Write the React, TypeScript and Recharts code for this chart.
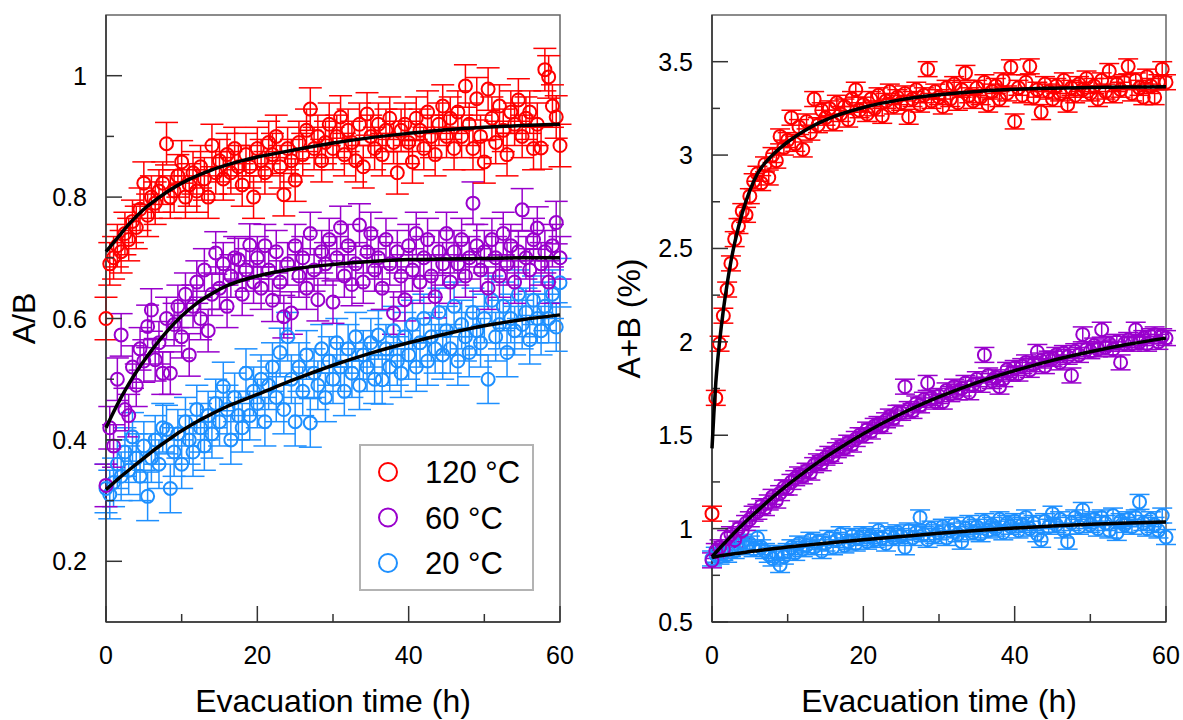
import React from 'react';
import {
  ComposedChart,
  ErrorBar,
  Legend,
  Line,
  ReferenceArea,
  Scatter,
  XAxis,
  YAxis
} from 'recharts';

const FONT = '"Liberation Sans", Arial, sans-serif';

// evacuation time (h), one sample every 30 min
const TIME = [
  0, 0.5, 1, 1.5, 2, 2.5, 3, 3.5, 4, 4.5,
  5, 5.5, 6, 6.5, 7, 7.5, 8, 8.5, 9, 9.5,
  10, 10.5, 11, 11.5, 12, 12.5, 13, 13.5, 14, 14.5,
  15, 15.5, 16, 16.5, 17, 17.5, 18, 18.5, 19, 19.5,
  20, 20.5, 21, 21.5, 22, 22.5, 23, 23.5, 24, 24.5,
  25, 25.5, 26, 26.5, 27, 27.5, 28, 28.5, 29, 29.5,
  30, 30.5, 31, 31.5, 32, 32.5, 33, 33.5, 34, 34.5,
  35, 35.5, 36, 36.5, 37, 37.5, 38, 38.5, 39, 39.5,
  40, 40.5, 41, 41.5, 42, 42.5, 43, 43.5, 44, 44.5,
  45, 45.5, 46, 46.5, 47, 47.5, 48, 48.5, 49, 49.5,
  50, 50.5, 51, 51.5, 52, 52.5, 53, 53.5, 54, 54.5,
  55, 55.5, 56, 56.5, 57, 57.5, 58, 58.5, 59, 59.5,
  60
];

const SERIES_NAMES = ['120 °C', '60 °C', '20 °C'];
const SERIES_COLORS = ['#ff0000', '#9900cc', '#1e90ff'];

// A/B
const RATIO_120 = [
  0.60, 0.69, 0.70, 0.72, 0.71, 0.74, 0.73, 0.76, 0.75, 0.78,
  0.823, 0.77, 0.80, 0.79, 0.81, 0.823, 0.888, 0.80, 0.81, 0.835,
  0.858, 0.80, 0.82, 0.84, 0.81, 0.85, 0.83, 0.80, 0.885, 0.84,
  0.86, 0.83, 0.87, 0.84, 0.88, 0.85, 0.82, 0.87, 0.85, 0.80,
  0.88, 0.86, 0.84, 0.89, 0.87, 0.90, 0.85, 0.804, 0.88, 0.86,
  0.828, 0.89, 0.87, 0.91, 0.945, 0.88, 0.90, 0.86, 0.89, 0.92,
  0.88, 0.90, 0.932, 0.87, 0.91, 0.89, 0.86, 0.92, 0.85, 0.937,
  0.90, 0.88, 0.92, 0.87, 0.91, 0.93, 0.89, 0.84, 0.91, 0.92,
  0.89, 0.858, 0.93, 0.91, 0.88, 0.94, 0.90, 0.87, 0.92, 0.95,
  0.90, 0.93, 0.88, 0.94, 0.90, 0.983, 0.92, 0.88, 0.962, 0.90,
  0.858, 0.978, 0.93, 0.89, 0.95, 0.91, 0.87, 0.94, 0.92, 0.96,
  0.90, 0.93, 0.94, 0.88, 0.92, 0.881, 1.01, 0.998, 0.95, 0.932,
  0.885
];
const RATIO_60 = [
  0.325, 0.42, 0.39, 0.50, 0.573, 0.45, 0.44, 0.52, 0.49, 0.55,
  0.53, 0.587, 0.614, 0.532, 0.56, 0.51, 0.60, 0.51, 0.59, 0.62,
  0.57, 0.64, 0.54, 0.62, 0.66, 0.60, 0.68, 0.58, 0.64, 0.708,
  0.65, 0.69, 0.62, 0.67, 0.70, 0.697, 0.64, 0.68, 0.721, 0.66,
  0.70, 0.65, 0.72, 0.68, 0.63, 0.71, 0.66, 0.603, 0.69, 0.609,
  0.72, 0.67, 0.70, 0.65, 0.74, 0.68, 0.631, 0.71, 0.69, 0.73,
  0.627, 0.70, 0.75, 0.67, 0.72, 0.656, 0.69, 0.754, 0.66, 0.71,
  0.74, 0.68, 0.70, 0.65, 0.73, 0.69, 0.609, 0.71, 0.67, 0.631,
  0.72, 0.68, 0.74, 0.66, 0.70, 0.73, 0.67, 0.636, 0.71, 0.69,
  0.74, 0.66, 0.71, 0.69, 0.73, 0.67, 0.70, 0.79, 0.72, 0.68,
  0.71, 0.65, 0.73, 0.70, 0.67, 0.74, 0.69, 0.72, 0.66, 0.71,
  0.779, 0.70, 0.68, 0.73, 0.749, 0.69, 0.71, 0.66, 0.72, 0.758,
  0.70
];
const RATIO_20 = [
  0.32, 0.31, 0.33, 0.36, 0.34, 0.38, 0.35, 0.405, 0.37, 0.34,
  0.39, 0.307, 0.37, 0.40, 0.36, 0.42, 0.417, 0.32, 0.38, 0.41,
  0.36, 0.43, 0.40, 0.38, 0.45, 0.42, 0.39, 0.44, 0.41, 0.46,
  0.43, 0.488, 0.45, 0.40, 0.47, 0.44, 0.42, 0.51, 0.44, 0.48,
  0.46, 0.50, 0.43, 0.49, 0.52, 0.47, 0.544, 0.45, 0.57, 0.50,
  0.43, 0.52, 0.48, 0.54, 0.428, 0.51, 0.49, 0.55, 0.47, 0.53,
  0.50, 0.56, 0.52, 0.48, 0.55, 0.51, 0.57, 0.49, 0.54, 0.52,
  0.56, 0.50, 0.573, 0.499, 0.55, 0.52, 0.58, 0.53, 0.51, 0.57,
  0.54, 0.59, 0.52, 0.56, 0.60, 0.53, 0.57, 0.55, 0.61, 0.54,
  0.58, 0.55, 0.62, 0.53, 0.59, 0.57, 0.544, 0.61, 0.58, 0.56,
  0.60, 0.50, 0.63, 0.57, 0.59, 0.62, 0.544, 0.60, 0.58, 0.64,
  0.59, 0.61, 0.565, 0.63, 0.60, 0.58, 0.62, 0.60, 0.64, 0.586,
  0.659
];
const RATIO_ERR = [0.035, 0.035, 0.04];

// A+B (%)
const TOTAL_120 = [
  1.08, 1.70, 1.99, 2.14, 2.28, 2.42, 2.55, 2.62, 2.70, 2.68,
  2.78, 2.86, 2.90, 2.85, 2.95, 2.88, 3.00, 2.97, 3.10, 3.04,
  3.08, 3.20, 3.06, 3.15, 3.03, 3.18, 3.12, 3.30, 3.16, 3.24,
  3.20, 3.25, 3.17, 3.28, 3.22, 3.26, 3.19, 3.30, 3.35, 3.24,
  3.27, 3.22, 3.30, 3.25, 3.32, 3.21, 3.29, 3.34, 3.26, 3.31,
  3.28, 3.33, 3.205, 3.30, 3.35, 3.27, 3.32, 3.46, 3.29, 3.34,
  3.31, 3.26, 3.36, 3.30, 3.38, 3.28, 3.35, 3.44, 3.32, 3.29,
  3.36, 3.31, 3.39, 3.27, 3.34, 3.37, 3.30, 3.40, 3.33, 3.47,
  3.18, 3.36, 3.32, 3.39, 3.475, 3.31, 3.35, 3.23, 3.38, 3.34,
  3.30, 3.37, 3.33, 3.40, 3.27, 3.36, 3.32, 3.38, 3.35, 3.41,
  3.33, 3.37, 3.30, 3.40, 3.34, 3.45, 3.32, 3.38, 3.35, 3.39,
  3.475, 3.33, 3.40, 3.36, 3.31, 3.42, 3.37, 3.31, 3.39, 3.46,
  3.39
];
const TOTAL_60 = [
  0.83, 0.88, 0.90, 0.89, 0.95, 0.97, 0.94, 1.00, 0.99, 1.03,
  1.05, 1.08, 1.09, 1.12, 1.11, 1.14, 1.17, 1.15, 1.19, 1.22,
  1.22, 1.25, 1.27, 1.29, 1.28, 1.31, 1.30, 1.34, 1.36, 1.35,
  1.38, 1.40, 1.39, 1.42, 1.44, 1.43, 1.46, 1.45, 1.48, 1.50,
  1.50, 1.53, 1.52, 1.55, 1.56, 1.55, 1.58, 1.60, 1.59, 1.62,
  1.62, 1.76, 1.64, 1.63, 1.67, 1.66, 1.69, 1.78, 1.70, 1.68,
  1.71, 1.68, 1.74, 1.72, 1.76, 1.73, 1.75, 1.78, 1.73, 1.77,
  1.80, 1.77, 1.93, 1.82, 1.79, 1.81, 1.76, 1.80, 1.85, 1.83,
  1.86, 1.83, 1.87, 1.89, 1.85, 1.88, 1.946, 1.90, 1.87, 1.91,
  1.91, 1.93, 1.89, 1.94, 1.92, 1.82, 1.95, 1.93, 2.04, 1.96,
  1.95, 1.98, 1.96, 2.065, 1.97, 1.99, 1.96, 2.00, 1.89, 1.99,
  2.01, 1.99, 2.065, 2.00, 2.02, 1.99, 2.03, 2.04, 2.00, 2.03,
  2.02
];
const TOTAL_20 = [
  0.84, 0.86, 0.85, 0.87, 0.86, 0.89, 0.88, 0.91, 0.93, 0.90,
  0.92, 0.89, 0.95, 0.90, 0.88, 0.86, 0.84, 0.87, 0.805, 0.85,
  0.88, 0.90, 0.87, 0.92, 0.89, 0.91, 0.94, 0.90, 0.93, 0.88,
  0.92, 0.95, 0.90, 0.94, 0.97, 0.91, 0.93, 0.96, 0.92, 0.95,
  0.97, 0.93, 0.96, 0.94, 0.99, 0.95, 0.92, 0.97, 0.95, 0.98,
  0.96, 0.90, 0.99, 0.95, 0.98, 1.06, 0.97, 0.94, 1.00, 0.96,
  0.98, 1.01, 0.95, 0.99, 1.02, 0.97, 0.93, 1.00, 1.03, 0.98,
  1.01, 0.97, 1.04, 0.99, 1.02, 1.00, 1.05, 0.98, 1.03, 1.01,
  1.04, 0.99, 1.02, 1.06, 1.00, 1.03, 0.97, 0.94, 1.04, 1.01,
  1.08, 1.02, 1.05, 0.99, 0.93, 1.03, 1.06, 1.01, 1.10, 1.04,
  1.02, 1.05, 1.00, 1.06, 1.03, 0.99, 1.07, 0.977, 1.04, 1.02,
  1.05, 1.01, 1.06, 1.143, 1.03, 1.00, 1.05, 1.02, 0.99, 1.07,
  0.955
];
const TOTAL_ERR = [0.04, 0.04, 0.04];

// fitted curves
const FIT_T_RATIO = [0, 1, 2, 3, 4, 5, 6, 8, 10, 12, 14, 16, 18, 20, 25, 30, 35, 40, 45, 50, 55, 60];
const FIT_RATIO_120 = [
  0.71, 0.725, 0.74, 0.755, 0.768, 0.78, 0.79, 0.808, 0.823, 0.835, 0.845,
  0.853, 0.86, 0.866, 0.878, 0.889, 0.898, 0.905, 0.911, 0.915, 0.918, 0.92
];
const FIT_RATIO_60 = [
  0.42, 0.446, 0.47, 0.492, 0.512, 0.53, 0.547, 0.578, 0.604, 0.625, 0.641,
  0.654, 0.663, 0.67, 0.682, 0.689, 0.694, 0.697, 0.698, 0.699, 0.70, 0.70
];
const FIT_RATIO_20 = [
  0.318, 0.329, 0.34, 0.35, 0.36, 0.37, 0.38, 0.398, 0.415, 0.43, 0.443,
  0.455, 0.465, 0.475, 0.50, 0.523, 0.543, 0.56, 0.575, 0.588, 0.598, 0.606
];

const FIT_T_TOTAL = [
  0, 0.25, 0.5, 0.75, 1, 1.5, 2, 2.5, 3, 4, 5, 6, 8, 10, 12, 14, 16, 20, 25, 30, 35, 40, 45, 50, 55, 60
];
const FIT_TOTAL_120 = [
  1.43, 1.62, 1.78, 1.9, 2.0, 2.17, 2.31, 2.43, 2.53, 2.69, 2.81, 2.9, 3.0,
  3.07, 3.125, 3.17, 3.205, 3.255, 3.297, 3.323, 3.341, 3.352, 3.358, 3.362, 3.364, 3.366
];
const FIT_TOTAL_60 = [
  0.85, 0.861, 0.872, 0.883, 0.894, 0.916, 0.937, 0.958, 0.979, 1.019, 1.058, 1.095, 1.167,
  1.234, 1.296, 1.355, 1.409, 1.508, 1.615, 1.705, 1.782, 1.846, 1.901, 1.947, 1.987, 2.02
];
const FIT_TOTAL_20 = [
  0.845, 0.848, 0.85, 0.852, 0.854, 0.857, 0.86, 0.863, 0.866, 0.871, 0.877, 0.882, 0.892,
  0.901, 0.91, 0.918, 0.926, 0.941, 0.958, 0.975, 0.99, 1.003, 1.014, 1.023, 1.03, 1.036
];

const TIME_TICKS = [0, 10, 20, 30, 40, 50, 60];
const TIME_LABELS = [0, 20, 40, 60];
const RATIO_TICKS = [0.2, 0.3, 0.4, 0.5, 0.6, 0.7, 0.8, 0.9, 1];
const RATIO_LABELS = [0.2, 0.4, 0.6, 0.8, 1];
const TOTAL_TICKS = [0.5, 0.75, 1, 1.25, 1.5, 1.75, 2, 2.25, 2.5, 2.75, 3, 3.25, 3.5];
const TOTAL_LABELS = [0.5, 1, 1.5, 2, 2.5, 3, 3.5];

const toPoints = (ys: number[], err: number) => TIME.map((t, i) => ({ t, y: ys[i], err }));
const toCurve = (ts: number[], ys: number[]) => ts.map((t, i) => ({ t, y: ys[i] }));

const AXIS_COLOR = '#333';
const CHART_HEIGHT = 720;
const TICK_FONT = 25;
const TITLE_FONT = 32;

function XTick(props: any) {
  const { x, y, payload } = props;
  const major = TIME_LABELS.includes(payload.value);
  return (
    <g>
      <line x1={x} y1={y} x2={x} y2={y - (major ? 16 : 8)} stroke={AXIS_COLOR} strokeWidth={1.5} />
      {major && (
        <text x={x} y={y + 42} textAnchor="middle" fontSize={TICK_FONT} fontFamily={FONT} fill="#000">
          {payload.value}
        </text>
      )}
    </g>
  );
}

function makeYTick(labels: number[]) {
  return (props: any) => {
    const { x, y, payload } = props;
    const major = labels.includes(payload.value);
    return (
      <g>
        <line x1={x} y1={y} x2={x + (major ? 16 : 8)} y2={y} stroke={AXIS_COLOR} strokeWidth={1.5} />
        {major && (
          <text x={x - 19} y={y} dy="0.36em" textAnchor="end" fontSize={TICK_FONT} fontFamily={FONT} fill="#000">
            {payload.value}
          </text>
        )}
      </g>
    );
  };
}

function LegendBox() {
  return (
    <svg width={176} height={148} style={{ display: 'block' }}>
      <rect x={1} y={1} width={173} height={145} fill="#fff" stroke="#b3b3b3" strokeWidth={2} />
      {SERIES_NAMES.map((name, i) => (
        <g key={name}>
          <circle cx={29} cy={28 + i * 45.5} r={9} fill="none" stroke={SERIES_COLORS[i]} strokeWidth={2} />
          <text x={66} y={28 + i * 45.5 + 11} fontSize={31} fontFamily={FONT} fill="#000">
            {name}
          </text>
        </g>
      ))}
    </svg>
  );
}

interface PanelProps {
  width: number;
  marginRight: number;
  yWidth: number;
  yDomain: [number, number];
  yTicks: number[];
  yLabels: number[];
  yTitle: string;
  yTitleX: number;
  series: number[][];
  errors: number[];
  fitT: number[];
  fits: number[][];
  capWidth: number;
  showLegend?: boolean;
}

// blue first, red on top
const DRAW_ORDER = [2, 1, 0];

function Panel(p: PanelProps) {
  const yTick = makeYTick(p.yLabels);
  const margin = { top: 15, right: p.marginRight, bottom: 0, left: 0 };
  return (
    <div style={{ position: 'relative', width: p.width, height: CHART_HEIGHT }}>
      <div style={{ position: 'absolute', left: 0, top: 0 }}>
        <ComposedChart width={p.width} height={CHART_HEIGHT} margin={margin}>
          <XAxis
            dataKey="t"
            type="number"
            domain={[0, 60]}
            ticks={TIME_TICKS}
            interval={0}
            height={98}
            tickLine={false}
            tickSize={0}
            tickMargin={0}
            axisLine={{ stroke: AXIS_COLOR, strokeWidth: 1.5 }}
            tick={(props: any) => <XTick {...props} />}
            label={(props: any) => {
              const vb = props.viewBox;
              return (
                <text x={vb.x + vb.width / 2} y={vb.y + 90} textAnchor="middle" fontSize={TITLE_FONT} fontFamily={FONT} fill="#000">
                  Evacuation time (h)
                </text>
              );
            }}
          />
          <YAxis
            type="number"
            domain={p.yDomain}
            ticks={p.yTicks}
            interval={0}
            width={p.yWidth}
            tickLine={false}
            tickSize={0}
            tickMargin={0}
            axisLine={{ stroke: AXIS_COLOR, strokeWidth: 1.5 }}
            tick={yTick}
            label={(props: any) => {
              const vb = props.viewBox;
              const cx = vb.x + p.yTitleX;
              const cy = vb.y + vb.height / 2;
              return (
                <text
                  x={cx}
                  y={cy}
                  transform={`rotate(-90 ${cx} ${cy})`}
                  textAnchor="middle"
                  dominantBaseline="central"
                  fontSize={TITLE_FONT}
                  fontFamily={FONT}
                  fill="#000"
                >
                  {p.yTitle}
                </text>
              );
            }}
          />
          <ReferenceArea
            x1={0}
            x2={60}
            y1={p.yDomain[0]}
            y2={p.yDomain[1]}
            fill="none"
            fillOpacity={0}
            stroke="#666"
            strokeWidth={1.5}
          />
          {DRAW_ORDER.map((i) => (
            <Scatter
              key={SERIES_NAMES[i]}
              name={SERIES_NAMES[i]}
              data={toPoints(p.series[i], p.errors[i])}
              dataKey="y"
              isAnimationActive={false}
              shape={(s: any) => (
                <circle cx={s.cx} cy={s.cy} r={6.5} fill="none" stroke={SERIES_COLORS[i]} strokeWidth={2} />
              )}
            >
              <ErrorBar
                dataKey="err"
                direction="y"
                width={p.capWidth}
                stroke={SERIES_COLORS[i]}
                strokeWidth={1.5}
                isAnimationActive={false}
              />
            </Scatter>
          ))}
          {p.showLegend && (
            <Legend
              layout="vertical"
              align="center"
              verticalAlign="middle"
              content={() => <LegendBox />}
              wrapperStyle={{ position: 'absolute', left: 359, top: 444, width: 176, height: 148 }}
            />
          )}
        </ComposedChart>
      </div>
      {/* fitted curves drawn on top of the markers, same scales */}
      <div style={{ position: 'absolute', left: 0, top: 0, pointerEvents: 'none' }}>
        <ComposedChart width={p.width} height={CHART_HEIGHT} margin={margin}>
          <XAxis dataKey="t" type="number" domain={[0, 60]} ticks={TIME_TICKS} height={98} tick={false} tickLine={false} axisLine={false} />
          <YAxis type="number" domain={p.yDomain} ticks={p.yTicks} width={p.yWidth} tick={false} tickLine={false} axisLine={false} />
          {DRAW_ORDER.map((i) => (
            <Line
              key={'fit-' + SERIES_NAMES[i]}
              data={toCurve(p.fitT, p.fits[i])}
              dataKey="y"
              type="monotone"
              stroke="#000"
              strokeWidth={3.5}
              dot={false}
              activeDot={false}
              legendType="none"
              isAnimationActive={false}
            />
          ))}
        </ComposedChart>
      </div>
    </div>
  );
}

export default function App() {
  return (
    <div style={{ position: 'absolute', left: 0, top: 0, width: 1183, height: 720, background: '#fff' }}>
      <div style={{ position: 'absolute', left: 0, top: 0 }}>
        <Panel
          width={600}
          marginRight={40}
          yWidth={106}
          yDomain={[0.1, 1.1]}
          yTicks={RATIO_TICKS}
          yLabels={RATIO_LABELS}
          yTitle="A/B"
          yTitleX={24}
          series={[RATIO_120, RATIO_60, RATIO_20]}
          errors={RATIO_ERR}
          fitT={FIT_T_RATIO}
          fits={[FIT_RATIO_120, FIT_RATIO_60, FIT_RATIO_20]}
          capWidth={11.5}
          showLegend
        />
      </div>
      <div style={{ position: 'absolute', left: 600, top: 0 }}>
        <Panel
          width={583}
          marginRight={17}
          yWidth={112}
          yDomain={[0.5, 3.75]}
          yTicks={TOTAL_TICKS}
          yLabels={TOTAL_LABELS}
          yTitle="A+B (%)"
          yTitleX={29}
          series={[TOTAL_120, TOTAL_60, TOTAL_20]}
          errors={TOTAL_ERR}
          fitT={FIT_T_TOTAL}
          fits={[FIT_TOTAL_120, FIT_TOTAL_60, FIT_TOTAL_20]}
          capWidth={10}
        />
      </div>
    </div>
  );
}
